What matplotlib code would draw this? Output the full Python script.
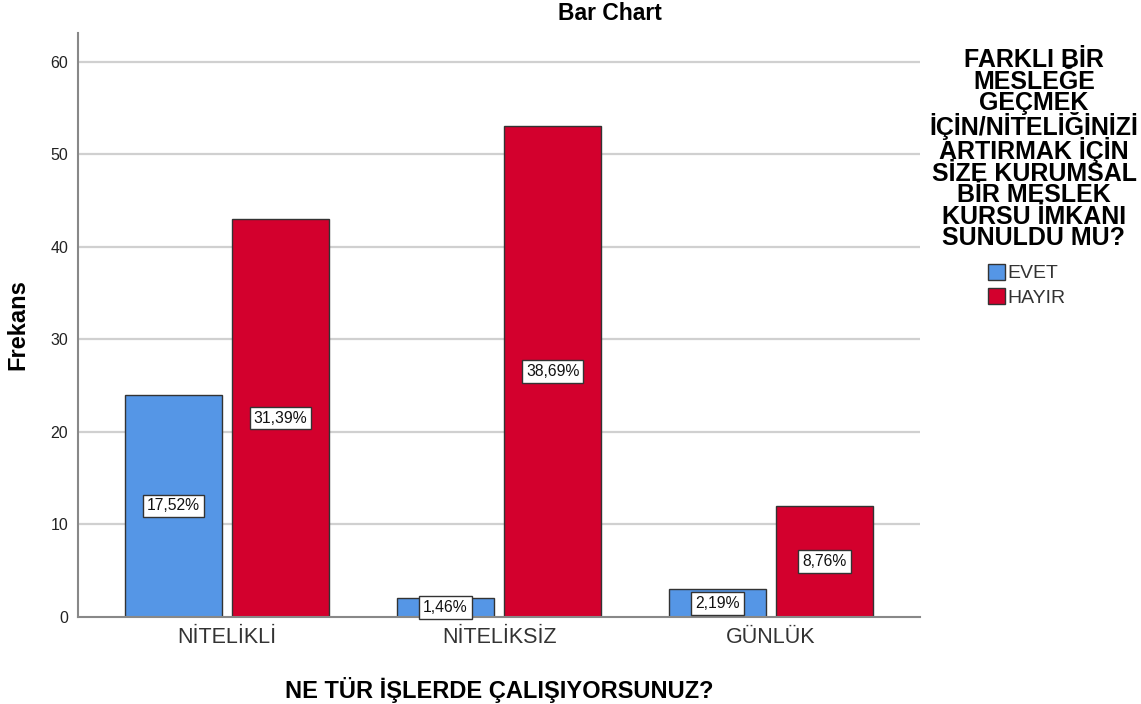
import matplotlib
matplotlib.use("Agg")
import matplotlib.pyplot as plt
from matplotlib.patches import Patch
import numpy as np

plt.rcParams['font.family'] = ['Liberation Sans', 'DejaVu Sans']

# Data
categories = ["NİTELİKLİ", "NİTELİKSİZ", "GÜNLÜK"]
series_names = ["EVET", "HAYIR"]
evet = [24, 2, 3]
hayir = [43, 53, 12]
yticks = [0, 10, 20, 30, 40, 50, 60]
colors = ["#5596E6", "#D3002D"]

total = sum(evet) + sum(hayir)

fig = plt.figure(figsize=(11.41, 7.04), dpi=100)
W, H = 1141, 704
ax = fig.add_axes([78 / W, 1 - 617 / H, (920 - 78) / W, (617 - 33) / H])

x = np.arange(len(categories))
width = 0.357
offset = 0.197

for vals, off, col in zip([evet, hayir], [-offset, offset], colors):
    ax.bar(x + off, vals, width=width, color=col, edgecolor="#333333",
           linewidth=1.0, zorder=3)
    for xi, v in zip(x + off, vals):
        pct = f"{v / total * 100:.2f}%".replace(".", ",")
        ax.text(xi, v / 2, pct, ha="center", va="center", fontsize=11.3,
                color="#111111", zorder=5,
                bbox=dict(boxstyle="square,pad=0.25", facecolor="white",
                          edgecolor="#333333", linewidth=1.0))

ax.set_xlim(-0.548, 2.548)
ax.set_ylim(0, 63.1)
ax.set_yticks(yticks)
ax.set_xticks(x)
ax.set_xticklabels(categories, fontsize=15.5, color="#333333")
ax.tick_params(axis="y", labelsize=11.5, length=0, pad=7, labelcolor="#222222")
ax.tick_params(axis="x", length=0, pad=7)

for t in yticks[1:]:
    ax.axhline(t, color="#d0d0d0", linewidth=1.6, zorder=1)

for side in ["top", "right"]:
    ax.spines[side].set_visible(False)
for side in ["left", "bottom"]:
    ax.spines[side].set_color("#888888")
    ax.spines[side].set_linewidth(1.5)
    ax.spines[side].set_zorder(4)

ax.set_xlabel("NE TÜR İŞLERDE ÇALIŞIYORSUNUZ?", fontsize=17, fontweight="bold",
              va="center")
ax.xaxis.set_label_coords(0.5, (617 - 690) / 584)
ax.set_ylabel("Frekans", fontsize=17, fontweight="bold", va="center")
ax.yaxis.set_label_coords((18 - 78) / 842, 0.5)

fig.text(610 / W, 1 - 14 / H, "Bar Chart", ha="center", va="center",
         fontsize=16.5, fontweight="bold")

legend_title = ("FARKLI BİR\nMESLEĞE\nGEÇMEK\nİÇİN/NİTELİĞİNİZİ\nARTIRMAK İÇİN\n"
                "SİZE KURUMSAL\nBİR MESLEK\nKURSU İMKANI\nSUNULDU MU?")
fig.text(1034 / W, 1 - 48 / H, legend_title, ha="center", va="top",
         multialignment="center", fontsize=18, fontweight="bold",
         linespacing=0.87)

handles = [Patch(facecolor=c, edgecolor="#333333", linewidth=1.0) for c in colors]
fig.legend(handles, series_names, loc="upper left",
           bbox_to_anchor=(988 / W, 1 - 264 / H), frameon=False,
           handlelength=0.85, handleheight=0.85, handletextpad=0.15,
           borderpad=0, borderaxespad=0, labelspacing=0.3, fontsize=14,
           labelcolor="#333333")

fig.savefig("out.png", dpi=100, facecolor="white")
